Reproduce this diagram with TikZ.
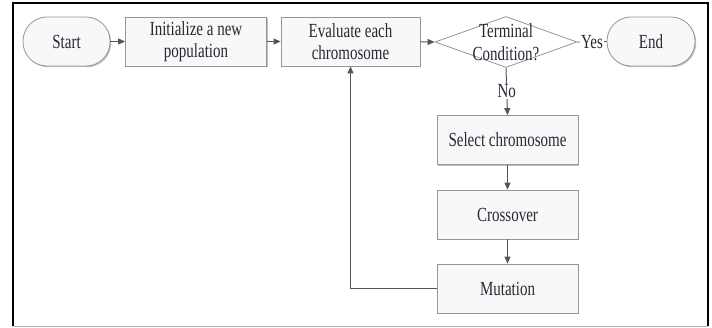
\documentclass[tikz,border=0pt]{standalone}
\usepackage{fontspec}
\setmainfont[FakeStretch=0.75]{Liberation Serif}
\usetikzlibrary{arrows.meta,shapes.geometric,shadows}
\definecolor{ink}{RGB}{40,40,55}
\definecolor{boxline}{RGB}{150,150,150}
\definecolor{boxfill}{RGB}{248,248,248}
\definecolor{lineclr}{RGB}{85,85,85}
\begin{document}
\begin{tikzpicture}[x=1pt,y=-1pt,
  txt/.style={font=\fontsize{20}{22.5}\selectfont, text=ink},
  box/.style={txt, draw=boxline, fill=boxfill, line width=0.8pt,
    minimum width=141pt, minimum height=49pt, inner sep=0pt, align=center,
    drop shadow={shadow xshift=1.2pt, shadow yshift=-1.2pt, opacity=0.25, fill=black}},
  termbox/.style={box, rounded corners=24pt, minimum width=87pt},
  conn/.style={draw=lineclr, line width=1pt, -{Triangle[length=7pt,width=6pt]}},
  plain/.style={draw=lineclr, line width=0.8pt},
  lbl/.style={txt, fill=white, inner sep=1pt}]
\useasboundingbox (0,0) rectangle (712,327);
\fill[white] (0,0) rectangle (712,327);
% frame
\draw[gray!60, line width=1pt] (13,326) -- (708,326);
\draw[black, line width=2pt] (13,326) -- (13,3) -- (708,3) -- (708,326);
% nodes
\node[termbox] (start) at (66.5,41.5) {Start};
\node[box] (init) at (196,41.5) {Initialize a new\\population};
\node[box, minimum width=139pt] (eval) at (350.5,41.5) {Evaluate each\\chromosome};
\node[diamond, draw=boxline, line width=0.8pt, minimum width=142pt, minimum height=51pt, inner sep=0pt] (cond) at (506,42) {};
\node[txt, align=center] (condtxt) at (cond.center) {Terminal\\Condition?};
\node[termbox, minimum width=88pt] (end) at (651,41.5) {End};
\node[box] (sel) at (507.5,140) {Select chromosome};
\node[box] (cross) at (507.5,214.5) {Crossover};
\node[box] (mut) at (507.5,288.5) {Mutation};
% connectors
\draw[conn] (start) -- (init);
\draw[conn] (init) -- (eval);
\draw[conn] (eval) -- (cond.west);
\draw[plain] (cond.east) -- node[lbl] {Yes} (end.west);
\draw[conn] (cond.south) -- node[lbl] {No} (sel.north);
\draw[conn] (sel) -- (cross);
\draw[conn] (cross) -- (mut);
\draw[conn] (mut.west) -| (eval.south);
\end{tikzpicture}
\end{document}
